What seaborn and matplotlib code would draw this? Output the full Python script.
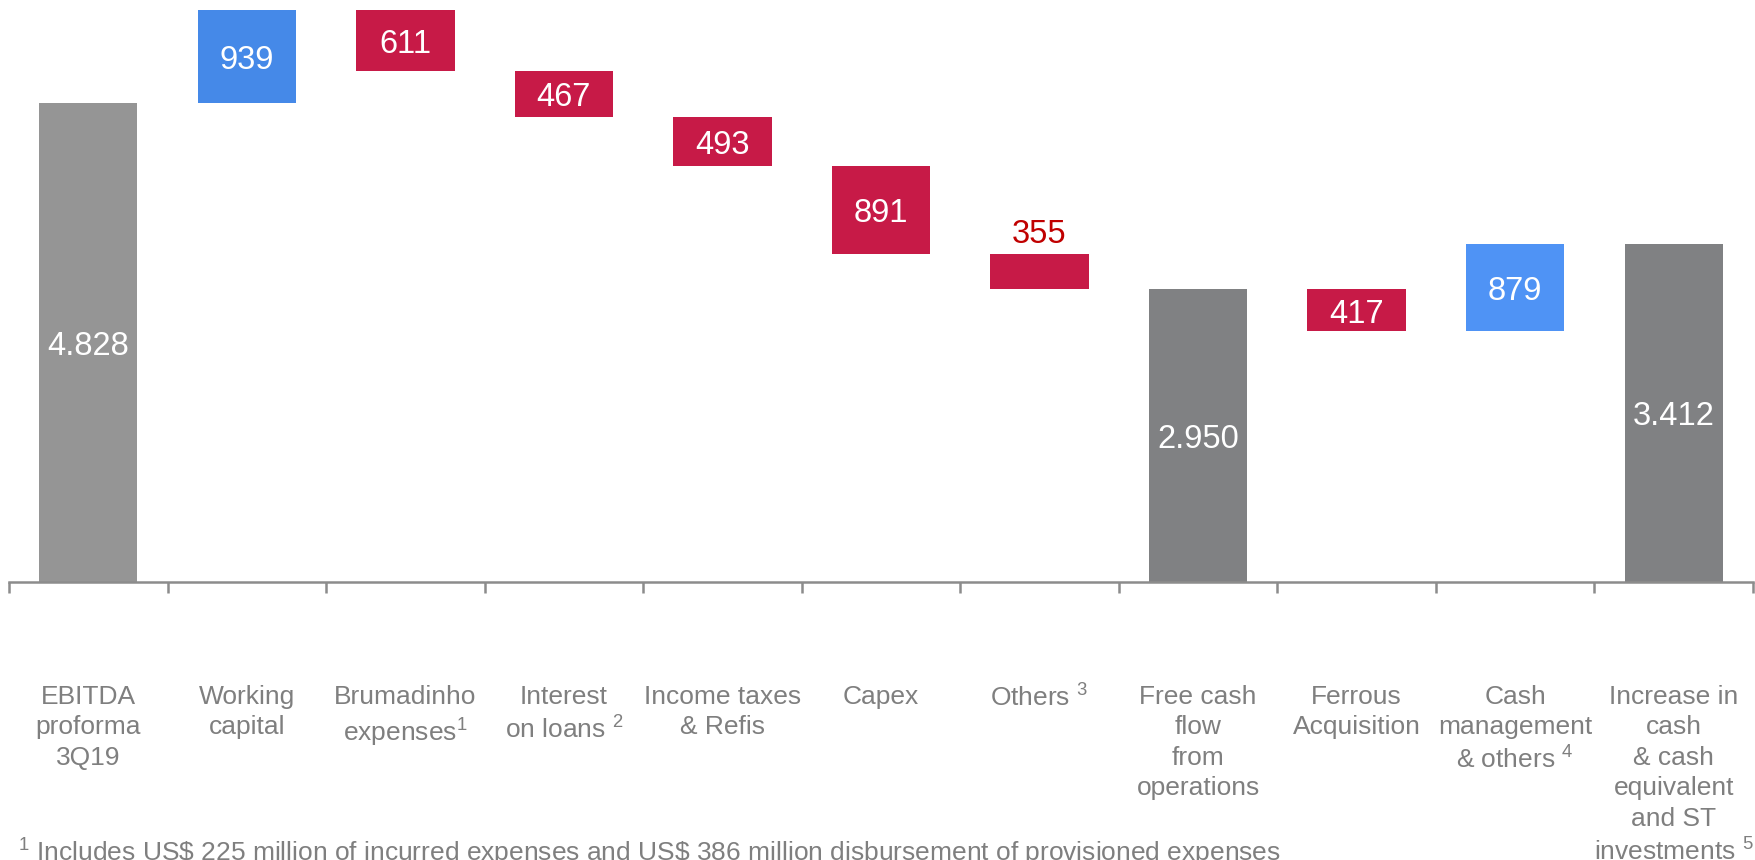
import numpy as np
import seaborn as sns
import matplotlib.pyplot as plt

# Data (US$ million)
steps = ["EBITDA\nproforma\n3Q19", "Working\ncapital", "Brumadinho\nexpenses$^{1}$",
         "Interest\non loans $^{2}$", "Income taxes\n& Refis", "Capex", "Others $^{3}$",
         "Free cash\nflow\nfrom\noperations", "Ferrous\nAcquisition",
         "Cash\nmanagement\n& others $^{4}$",
         "Increase in\ncash\n& cash\nequivalent\nand ST\ninvestments $^{5}$"]
values = [4828, 939, -611, -467, -493, -891, -355, 2950, -417, 879, 3412]
kinds = ["total", "delta", "delta", "delta", "delta", "delta", "delta",
         "total", "delta", "delta", "total"]
footnote = "$^{1}$ Includes US\\$ 225 million of incurred expenses and US\\$ 386 million disbursement of provisioned expenses"

colors = ["#959595", "#4589e8", "#c71a47", "#c71a47", "#c71a47", "#c71a47", "#c71a47",
          "#808183", "#c71a47", "#4f93f5", "#808183"]

# running totals -> floating bar bottoms and tops
bottoms, tops = [], []
level = 0
for v, k in zip(values, kinds):
    if k == "total":
        level = v
        bottoms.append(0)
        tops.append(v)
    else:
        bottoms.append(min(level, level + v))
        tops.append(max(level, level + v))
        level += v

sns.set_style("white")
plt.rcParams["font.family"] = ["Liberation Sans", "DejaVu Sans"]
plt.rcParams["mathtext.fontset"] = "custom"
plt.rcParams["mathtext.rm"] = "Liberation Sans"
plt.rcParams["mathtext.default"] = "regular"

fig = plt.figure(figsize=(17.56, 8.6), dpi=100)
ax = fig.add_axes([9 / 1756, 278 / 860, 1744 / 1756, 582 / 860])

keys = [str(i) for i in range(len(steps))]
sns.barplot(x=keys, y=tops, hue=keys, palette=colors, width=0.62, saturation=1,
            linewidth=0, legend=False, ax=ax)
# white base hides the part below each floating bar
sns.barplot(x=keys, y=bottoms, color="white", width=0.64, saturation=1,
            linewidth=0, ax=ax)

for i, (v, b, t) in enumerate(zip(values, bottoms, tops)):
    txt = f"{abs(v):,}".replace(",", ".")
    if t - b < 400:
        ax.text(i, t + 200, txt, ha="center", va="center", fontsize=23.5, color="#c00000")
    else:
        ax.text(i, (b + t) / 2 - 40, txt, ha="center", va="center", fontsize=23.5, color="white")

ax.set_xlim(-0.5, 10.5)
ax.set_ylim(0, 5868)
ax.set_yticks([])
ax.set_xticks(range(len(steps)))
ax.set_xticklabels(steps, fontsize=19, color="#7f7f7f", linespacing=1.34)
ax.set_xticks(np.arange(-0.5, len(steps), 1), minor=True)
ax.tick_params(axis="x", which="major", length=0, pad=74)
ax.tick_params(axis="x", which="minor", bottom=True, length=8, width=1.8, color="#8c8c8c")
for s in ["top", "left", "right"]:
    ax.spines[s].set_visible(False)
ax.spines["bottom"].set_color("#8c8c8c")
ax.spines["bottom"].set_linewidth(1.8)
ax.set_xlabel("")

fig.text(18 / 1756, 7 / 860, footnote, ha="left", va="center", fontsize=19, color="#7f7f7f")

fig.savefig("out.png", dpi=100)
